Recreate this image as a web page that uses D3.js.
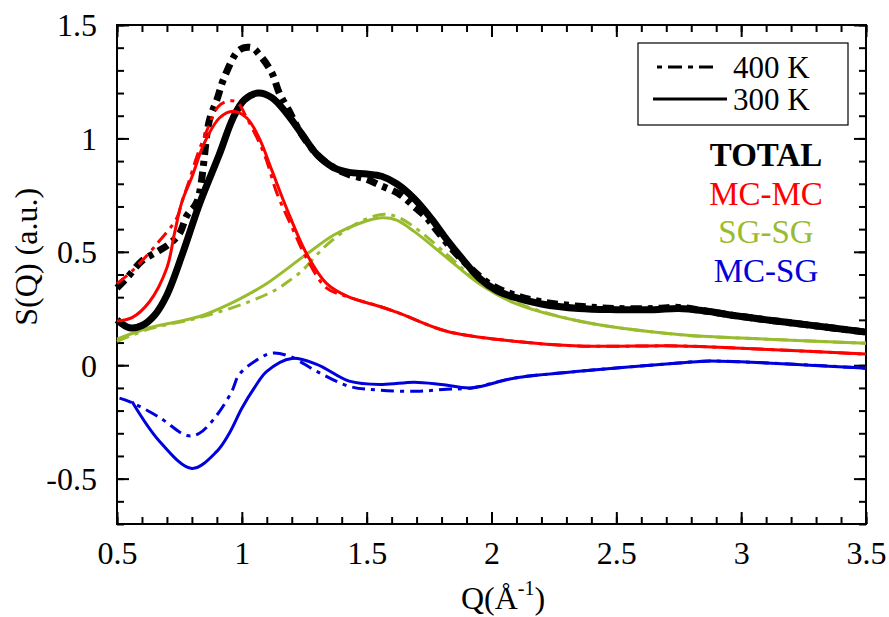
<!DOCTYPE html>
<html>
<head>
<meta charset="utf-8">
<script src="https://cdn.jsdelivr.net/npm/d3@7"></script>
<style>
  body { margin: 0; background: #fff; }
  svg, svg text { font-family: "Liberation Serif", "Times New Roman", Times, "DejaVu Serif", serif !important; }
</style>
</head>
<body>
<script>
// values: [Q, S(Q)]
const total300 = [[0.5,0.2],[0.55,0.165],[0.6,0.175],[0.65,0.22],[0.7,0.31],[0.765,0.5],[0.83,0.71],[0.91,0.93],[0.965,1.09],[1.01,1.17],[1.065,1.2],[1.12,1.18],[1.18,1.11],[1.24,1.02],[1.3,0.93],[1.37,0.87],[1.43,0.85],[1.5,0.843],[1.56,0.833],[1.62,0.8],[1.69,0.735],[1.76,0.645],[1.82,0.555],[1.89,0.46],[1.95,0.385],[2.02,0.33],[2.09,0.3],[2.2,0.27],[2.35,0.25],[2.5,0.245],[2.65,0.245],[2.75,0.25],[2.85,0.24],[3.0,0.215],[3.25,0.18],[3.5,0.146]]
const total400 = [[0.5,0.34],[0.54,0.385],[0.6,0.46],[0.66,0.5],[0.71,0.535],[0.75,0.58],[0.78,0.66],[0.82,0.72],[0.87,1.08],[0.9,1.17],[0.93,1.27],[0.99,1.39],[1.04,1.4],[1.07,1.37],[1.12,1.29],[1.15,1.2],[1.19,1.12],[1.23,1.035],[1.3,0.93],[1.37,0.87],[1.43,0.84],[1.5,0.82],[1.55,0.795],[1.63,0.755],[1.69,0.7],[1.74,0.65],[1.78,0.595],[1.86,0.49],[1.99,0.36],[2.09,0.31],[2.2,0.28],[2.35,0.26],[2.5,0.25],[2.65,0.25],[2.75,0.255],[2.85,0.24],[3.0,0.215],[3.25,0.18],[3.5,0.146]]
const mcmc300 = [[0.5,0.195],[0.56,0.21],[0.63,0.28],[0.7,0.43],[0.73,0.58],[0.76,0.72],[0.8,0.83],[0.85,0.98],[0.91,1.09],[0.965,1.12],[1.02,1.09],[1.07,1.0],[1.12,0.86],[1.18,0.69],[1.26,0.49],[1.34,0.36],[1.43,0.3],[1.55,0.26],[1.63,0.23],[1.82,0.15],[2.09,0.106],[2.35,0.085],[2.75,0.085],[3.0,0.075],[3.5,0.049]]
const mcmc400 = [[0.5,0.36],[0.56,0.415],[0.66,0.535],[0.74,0.65],[0.76,0.72],[0.785,0.8],[0.82,0.92],[0.86,1.035],[0.905,1.14],[0.945,1.165],[0.98,1.16],[1.02,1.09],[1.09,0.93],[1.14,0.76],[1.2,0.61],[1.26,0.47],[1.34,0.34],[1.43,0.3],[1.55,0.26],[1.63,0.23],[1.82,0.15],[2.09,0.106],[2.35,0.085],[2.75,0.085],[3.0,0.075],[3.5,0.049]]
const sgsg300 = [[0.5,0.115],[0.63,0.165],[0.83,0.215],[0.96,0.275],[1.03,0.315],[1.1,0.36],[1.26,0.49],[1.37,0.575],[1.47,0.625],[1.56,0.65],[1.62,0.64],[1.69,0.59],[1.82,0.475],[1.95,0.36],[2.09,0.275],[2.35,0.195],[2.75,0.135],[3.0,0.12],[3.5,0.097]]
const sgsg400 = [[0.5,0.105],[0.63,0.16],[0.83,0.21],[1.03,0.28],[1.14,0.335],[1.18,0.365],[1.24,0.415],[1.29,0.475],[1.35,0.54],[1.46,0.625],[1.56,0.665],[1.62,0.655],[1.69,0.61],[1.82,0.49],[1.95,0.365],[2.09,0.28],[2.35,0.195],[2.75,0.135],[3.0,0.12],[3.5,0.097]]
const mcsg300 = [[0.56,-0.16],[0.67,-0.335],[0.8,-0.455],[0.9,-0.38],[0.95,-0.3],[1.0,-0.19],[1.05,-0.1],[1.1,-0.027],[1.2,0.03],[1.3,0.004],[1.43,-0.07],[1.56,-0.085],[1.69,-0.075],[1.8,-0.085],[1.92,-0.1],[2.09,-0.057],[2.35,-0.027],[2.75,0.01],[2.85,0.018],[3.0,0.015],[3.5,-0.013]]
const mcsg400 = [[0.51,-0.145],[0.55,-0.16],[0.67,-0.23],[0.78,-0.31],[0.83,-0.3],[0.9,-0.22],[0.96,-0.115],[0.99,-0.04],[1.07,0.03],[1.12,0.053],[1.19,0.04],[1.3,-0.027],[1.43,-0.093],[1.55,-0.11],[1.7,-0.115],[1.82,-0.106],[1.92,-0.1],[2.09,-0.057],[2.35,-0.027],[2.75,0.01],[2.85,0.018],[3.0,0.015],[3.5,-0.013]]

const xTicks = [0.5, 1, 1.5, 2, 2.5, 3, 3.5]
const yTicks = [-0.5, 0, 0.5, 1, 1.5]
const seriesNames = ['TOTAL', 'MC-MC', 'SG-SG', 'MC-SG']
const tempNames = ['400 K', '300 K']

const red = '#ff0000', green = '#99bb2e', blue = '#0000dd'

const margin = {top: 25, bottom: 93, left: 117, right: 23}
const width = 889 - margin.left - margin.right
const height = 617 - margin.top - margin.bottom

const svg = d3.select('body').append('svg')
  .attr('width', 889)
  .attr('height', 617)

const g = svg.append('g')
  .attr('transform', `translate(${margin.left},${margin.top})`)

const xScale = d3.scaleLinear().domain([0.5, 3.5]).range([0, width])
const yScale = d3.scaleLinear().domain([-0.7, 1.5]).range([height, 0])

const minorX = d3.range(0.5, 3.501, 0.1)
const minorY = d3.range(-0.7, 1.501, 0.1)

// ticks point inwards on all four sides
function drawAxis(axis, tr, major, minor, labels) {
  const sc = (axis === d3.axisBottom || axis === d3.axisTop) ? xScale : yScale
  const a = g.append('g').attr('transform', tr)
  a.call(axis(sc).tickValues(minor).tickSizeInner(-7).tickSizeOuter(0).tickFormat(''))
  const b = g.append('g').attr('transform', tr)
  b.call(axis(sc).tickValues(major).tickSizeInner(-12).tickSizeOuter(0)
    .tickPadding(axis === d3.axisBottom ? 17 : 20)
    .tickFormat(labels ? (d) => String(d) : ''))
  for (const s of [a, b]) {
    s.attr('font-family', null)
    s.selectAll('.domain').remove()
    s.selectAll('line').attr('stroke', '#000').attr('stroke-width', 2)
  }
  b.selectAll('text').attr('font-size', 32).attr('fill', '#000')
  return b
}

drawAxis(d3.axisBottom, `translate(0,${height})`, xTicks, minorX, true)
drawAxis(d3.axisTop, 'translate(0,0)', xTicks, minorX, false)
drawAxis(d3.axisLeft, 'translate(0,0)', yTicks, minorY, true)
  .selectAll('text').attr('dy', '0.34em')
drawAxis(d3.axisRight, `translate(${width},0)`, yTicks, minorY, false)

g.append('rect')
  .attr('width', width).attr('height', height)
  .attr('fill', 'none').attr('stroke', '#000').attr('stroke-width', 2)

const line = d3.line()
  .x((d) => xScale(d[0]))
  .y((d) => yScale(d[1]))
  .curve(d3.curveCatmullRom.alpha(0.5))

const dashThin = '13,6,4,6'
const dashThick = '11,6,5,6'

const curves = [
  {data: sgsg400, color: green, w: 3, dash: dashThin},
  {data: sgsg300, color: green, w: 3, dash: null},
  {data: mcsg400, color: blue, w: 3, dash: dashThin},
  {data: mcsg300, color: blue, w: 3, dash: null},
  {data: total400, color: '#000', w: 7, dash: dashThick},
  {data: total300, color: '#000', w: 7, dash: null},
  {data: mcmc400, color: red, w: 3, dash: dashThin},
  {data: mcmc300, color: red, w: 3, dash: null}
]

g.selectAll('path.curve')
  .data(curves)
  .join('path')
  .attr('class', 'curve')
  .attr('d', (d) => line(d.data))
  .attr('fill', 'none')
  .attr('stroke', (d) => d.color)
  .attr('stroke-width', (d) => d.w)
  .attr('stroke-dasharray', (d) => d.dash)

// legend box (temperatures)
const lg = svg.append('g')
lg.append('rect')
  .attr('x', 638).attr('y', 43).attr('width', 210).attr('height', 82)
  .attr('fill', '#fff').attr('stroke', '#000').attr('stroke-width', 1.2)
lg.append('line')
  .attr('x1', 657).attr('x2', 718).attr('y1', 67).attr('y2', 67)
  .attr('stroke', '#000').attr('stroke-width', 3).attr('stroke-dasharray', '5,6,14,6')
lg.append('line')
  .attr('x1', 653).attr('x2', 727).attr('y1', 99).attr('y2', 99)
  .attr('stroke', '#000').attr('stroke-width', 3)
lg.selectAll('text')
  .data(tempNames)
  .join('text')
  .attr('x', 733)
  .attr('y', (d, i) => 78 + i * 32)
  .attr('font-size', 31)
  .text((d) => d)

// series labels
svg.selectAll('text.series')
  .data(seriesNames)
  .join('text')
  .attr('class', 'series')
  .attr('x', 766)
  .attr('y', (d, i) => 166 + i * 38.5)
  .attr('text-anchor', 'middle')
  .attr('font-size', 33)
  .attr('font-weight', (d, i) => i === 0 ? 'bold' : 'normal')
  .attr('fill', (d, i) => ['#000', red, green, blue][i])
  .text((d) => d)

// axis titles
svg.append('text')
  .attr('transform', `translate(37,${margin.top + yScale(0.5) + 5}) rotate(-90)`)
  .attr('text-anchor', 'middle')
  .attr('font-size', 32)
  .text('S(Q) (a.u.)')

const xt = svg.append('text')
  .attr('x', 503)
  .attr('y', 609)
  .attr('text-anchor', 'middle')
  .attr('font-size', 32)
xt.append('tspan').text('Q(Å')
xt.append('tspan').attr('font-size', 20).attr('dy', -14).text('-1')
xt.append('tspan').attr('dy', 14).text(')')
</script>
</body>
</html>
